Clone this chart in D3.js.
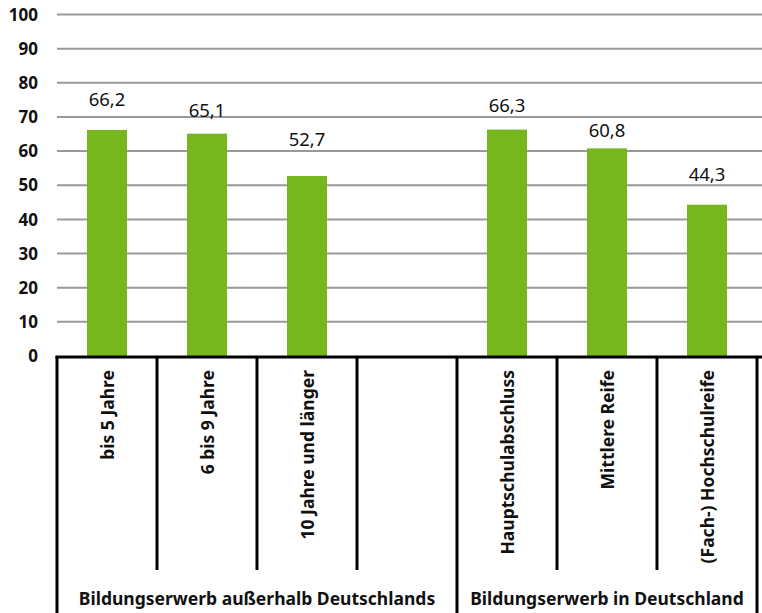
<!DOCTYPE html>
<html>
<head>
<meta charset="utf-8">
<script src="https://cdn.jsdelivr.net/npm/d3@7"></script>
<style>
  body { margin: 0; background: #fff; }
  text { font-family: "Noto Sans", "Open Sans", sans-serif; }
</style>
</head>
<body>
<script>
// categories (the empty one is the gap between the two groups)
const categories = ["bis 5 Jahre", "6 bis 9 Jahre", "10 Jahre und länger", "",
  "Hauptschulabschluss", "Mittlere Reife", "(Fach-) Hochschulreife"];
const values = [66.2, 65.1, 52.7, null, 66.3, 60.8, 44.3];
const groups = ["Bildungserwerb außerhalb Deutschlands", "Bildungserwerb in Deutschland"];
const groupSpans = [[0, 3], [4, 6]];
const yTicks = [0, 10, 20, 30, 40, 50, 60, 70, 80, 90, 100];

// hand-placed label gaps above the bars (px), as in the original
const labelGap = [24, 17, 30, 0, 18, 11, 24];

const W = 762, H = 613;
const plotL = 57, plotR = 757, plotT = 14.5, plotB = 356;

const svg = d3.select("body").append("svg")
  .attr("width", W).attr("height", H);

const x = d3.scaleBand().domain(d3.range(categories.length)).range([plotL, plotR]).padding(0);
const y = d3.scaleLinear().domain([0, 100]).range([plotB, plotT]);

// gridlines
svg.append("g").selectAll("line")
  .data(yTicks.filter(d => d > 0))
  .enter().append("line")
  .attr("x1", plotL).attr("x2", W)
  .attr("y1", d => y(d)).attr("y2", d => y(d))
  .attr("stroke", "#999").attr("stroke-width", 2);

// y labels
svg.append("g").selectAll("text")
  .data(yTicks)
  .enter().append("text")
  .attr("x", 38).attr("y", d => y(d))
  .attr("dy", "0.36em")
  .attr("text-anchor", "end")
  .attr("font-weight", "bold")
  .attr("font-size", 17)
  .attr("fill", "#111")
  .text(d => d);

// bars
const data = categories.map((c, i) => ({ i: i, c: c, v: values[i] })).filter(d => d.v != null);
const barW = 40;
svg.append("g").selectAll("rect")
  .data(data)
  .enter().append("rect")
  .attr("x", d => x(d.i) + x.bandwidth() / 2 - barW / 2)
  .attr("y", d => y(d.v))
  .attr("width", barW)
  .attr("height", d => plotB - y(d.v))
  .attr("fill", "#76b71e");

// value labels
svg.append("g").selectAll("text")
  .data(data)
  .enter().append("text")
  .attr("x", d => x(d.i) + x.bandwidth() / 2)
  .attr("y", d => y(d.v) - labelGap[d.i])
  .attr("text-anchor", "middle")
  .attr("font-size", 18.5)
  .attr("fill", "#111")
  .text(d => String(d.v.toFixed(1)).replace(".", ","));

// axis line
svg.append("line")
  .attr("x1", plotL - 1.5).attr("x2", W)
  .attr("y1", plotB + 1).attr("y2", plotB + 1)
  .attr("stroke", "#000").attr("stroke-width", 3);

// separators
const seps = d3.range(categories.length + 1);
svg.append("g").selectAll("line")
  .data(seps)
  .enter().append("line")
  .attr("x1", i => i < categories.length ? x(i) : plotR)
  .attr("x2", i => i < categories.length ? x(i) : plotR)
  .attr("y1", plotB)
  .attr("y2", i => (i === 0 || i === 4 || i === 7) ? H : 570)
  .attr("stroke", "#000").attr("stroke-width", 3);

// category labels (rotated)
svg.append("g").selectAll("text")
  .data(categories.map((c, i) => ({ i: i, c: c })).filter(d => d.c))
  .enter().append("text")
  .attr("transform", d => `translate(${x(d.i) + x.bandwidth() / 2 + 1},370) rotate(-90)`)
  .attr("dy", "0.35em")
  .attr("text-anchor", "end")
  .attr("font-weight", "bold")
  .attr("font-size", 17.5)
  .attr("fill", "#111")
  .text(d => d.c);

// group labels
svg.append("g").selectAll("text")
  .data(groups)
  .enter().append("text")
  .attr("x", (d, k) => (x(groupSpans[k][0]) + x(groupSpans[k][1]) + x.bandwidth()) / 2)
  .attr("y", 605)
  .attr("text-anchor", "middle")
  .attr("font-weight", "bold")
  .attr("font-size", 17.5)
  .attr("fill", "#111")
  .text(d => d);
</script>
</body>
</html>
